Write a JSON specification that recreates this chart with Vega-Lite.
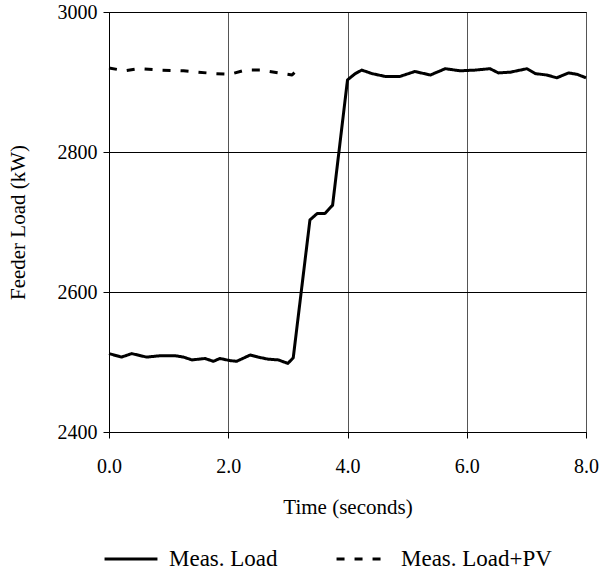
{
  "$schema": "https://vega.github.io/schema/vega-lite/v6.json",
  "width": 477,
  "height": 420,
  "autosize": "none",
  "padding": {"left": 109, "top": 12, "right": 16, "bottom": 141},
  "background": "white",
  "config": {
    "font": "Liberation Serif",
    "view": {"stroke": "black", "strokeWidth": 1},
    "axis": {"labelFont": "Liberation Serif", "titleFont": "Liberation Serif", "labelColor": "black", "titleColor": "black", "titleFontWeight": "normal", "domainColor": "black", "tickColor": "black", "gridColor": "black", "gridOpacity": 1, "labelFontSize": 20, "titleFontSize": 21, "tickSize": 6, "labelFlush": false}
  },
  "data": {
    "values": [
      {"t": 0, "v": 2512, "series": "Meas. Load"},
      {"t": 0.21, "v": 2507, "series": "Meas. Load"},
      {"t": 0.38, "v": 2512, "series": "Meas. Load"},
      {"t": 0.63, "v": 2507, "series": "Meas. Load"},
      {"t": 0.86, "v": 2509, "series": "Meas. Load"},
      {"t": 1.11, "v": 2509, "series": "Meas. Load"},
      {"t": 1.25, "v": 2507, "series": "Meas. Load"},
      {"t": 1.39, "v": 2503, "series": "Meas. Load"},
      {"t": 1.61, "v": 2505, "series": "Meas. Load"},
      {"t": 1.75, "v": 2501, "series": "Meas. Load"},
      {"t": 1.86, "v": 2505, "series": "Meas. Load"},
      {"t": 2.03, "v": 2502, "series": "Meas. Load"},
      {"t": 2.14, "v": 2501, "series": "Meas. Load"},
      {"t": 2.37, "v": 2510, "series": "Meas. Load"},
      {"t": 2.5, "v": 2507, "series": "Meas. Load"},
      {"t": 2.67, "v": 2504, "series": "Meas. Load"},
      {"t": 2.84, "v": 2503, "series": "Meas. Load"},
      {"t": 3.0, "v": 2498, "series": "Meas. Load"},
      {"t": 3.09, "v": 2506, "series": "Meas. Load"},
      {"t": 3.37, "v": 2703, "series": "Meas. Load"},
      {"t": 3.49, "v": 2712, "series": "Meas. Load"},
      {"t": 3.62, "v": 2712, "series": "Meas. Load"},
      {"t": 3.75, "v": 2724, "series": "Meas. Load"},
      {"t": 4.0, "v": 2903, "series": "Meas. Load"},
      {"t": 4.13, "v": 2912, "series": "Meas. Load"},
      {"t": 4.24, "v": 2917, "series": "Meas. Load"},
      {"t": 4.41, "v": 2912, "series": "Meas. Load"},
      {"t": 4.63, "v": 2908, "series": "Meas. Load"},
      {"t": 4.88, "v": 2908, "series": "Meas. Load"},
      {"t": 5.13, "v": 2915, "series": "Meas. Load"},
      {"t": 5.39, "v": 2910, "series": "Meas. Load"},
      {"t": 5.64, "v": 2919, "series": "Meas. Load"},
      {"t": 5.89, "v": 2916, "series": "Meas. Load"},
      {"t": 6.14, "v": 2917, "series": "Meas. Load"},
      {"t": 6.39, "v": 2919, "series": "Meas. Load"},
      {"t": 6.53, "v": 2913, "series": "Meas. Load"},
      {"t": 6.73, "v": 2914, "series": "Meas. Load"},
      {"t": 7.01, "v": 2919, "series": "Meas. Load"},
      {"t": 7.15, "v": 2912, "series": "Meas. Load"},
      {"t": 7.34, "v": 2910, "series": "Meas. Load"},
      {"t": 7.51, "v": 2906, "series": "Meas. Load"},
      {"t": 7.71, "v": 2913, "series": "Meas. Load"},
      {"t": 7.85, "v": 2911, "series": "Meas. Load"},
      {"t": 8.0, "v": 2906, "series": "Meas. Load"},
      {"t": 0, "v": 2920, "series": "Meas. Load+PV"},
      {"t": 0.27, "v": 2916, "series": "Meas. Load+PV"},
      {"t": 0.49, "v": 2919, "series": "Meas. Load+PV"},
      {"t": 0.88, "v": 2917, "series": "Meas. Load+PV"},
      {"t": 1.25, "v": 2916, "series": "Meas. Load+PV"},
      {"t": 1.5, "v": 2914, "series": "Meas. Load+PV"},
      {"t": 1.78, "v": 2912, "series": "Meas. Load+PV"},
      {"t": 2.03, "v": 2911, "series": "Meas. Load+PV"},
      {"t": 2.28, "v": 2917, "series": "Meas. Load+PV"},
      {"t": 2.53, "v": 2917, "series": "Meas. Load+PV"},
      {"t": 2.84, "v": 2913, "series": "Meas. Load+PV"},
      {"t": 3.07, "v": 2910, "series": "Meas. Load+PV"},
      {"t": 3.13, "v": 2915, "series": "Meas. Load+PV"}
    ]
  },
  "mark": {"type": "line", "color": "black", "strokeWidth": 3, "strokeJoin": "round"},
  "encoding": {
    "x": {
      "field": "t", "type": "quantitative",
      "scale": {"domain": [0, 8], "nice": false},
      "axis": {"values": [0, 2, 4, 6, 8], "format": ".1f", "title": "Time (seconds)", "labelPadding": 18, "titlePadding": 20, "gridWidth": 1, "gridColor": "#555"}
    },
    "y": {
      "field": "v", "type": "quantitative",
      "scale": {"domain": [2400, 3000], "nice": false, "zero": false},
      "axis": {"values": [2400, 2600, 2800, 3000], "format": "d", "title": "Feeder Load (kW)", "labelPadding": 6, "titlePadding": 29, "gridWidth": 1}
    },
    "strokeDash": {
      "field": "series", "type": "nominal",
      "scale": {"domain": ["Meas. Load", "Meas. Load+PV"], "range": [[1, 0], [8, 10]]},
      "legend": {
        "title": null, "orient": "none", "legendX": -6, "legendY": 519, "direction": "horizontal",
        "symbolType": "stroke", "symbolSize": 2800, "symbolStrokeWidth": 3, "symbolStrokeColor": "black",
        "labelFont": "Liberation Serif", "labelFontSize": 23, "labelColor": "black", "labelOffset": 10,
        "columnPadding": 52, "padding": 0, "labelLimit": 300
      }
    }
  }
}
